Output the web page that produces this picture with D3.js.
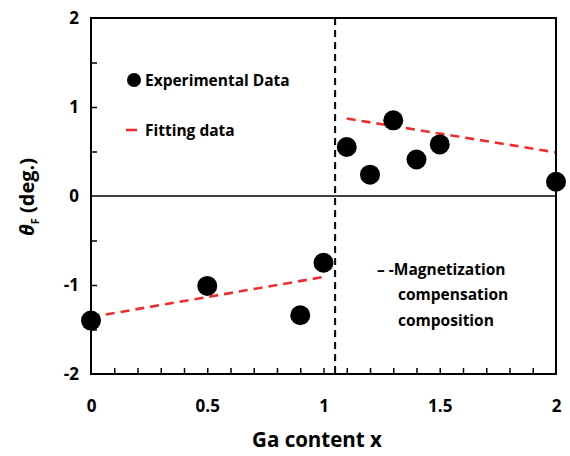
<!DOCTYPE html>
<html>
<head>
<meta charset="utf-8">
<script src="https://cdn.jsdelivr.net/npm/d3@7"></script>
<style>
  html, body { margin: 0; padding: 0; background: #fff; }
  svg { display: block; }
  text { font-family: "Open Sans", "Liberation Sans", sans-serif; fill: #000; }
</style>
</head>
<body>
<svg id="chart" width="570" height="456"></svg>
<script>
// Faraday rotation vs Ga content
const gaContent = [0, 0.5, 0.9, 1.0, 1.1, 1.2, 1.3, 1.4, 1.5, 2.0];
const thetaF    = [-1.40, -1.01, -1.34, -0.75, 0.55, 0.24, 0.85, 0.41, 0.58, 0.16];

// Linear fits on each side of the compensation point (end points)
const fitLowX  = [0, 1.0];
const fitLowY  = [-1.36, -0.91];
const fitHighX = [1.1, 2.0];
const fitHighY = [0.87, 0.49];

const compensationX = 1.05;

const xTicks = [0, 0.5, 1, 1.5, 2];
const xTickLabels = ["0", "0.5", "1", "1.5", "2"];
const yTicks = [-2, -1, 0, 1, 2];
const yTickLabels = ["-2", "-1", "0", "1", "2"];

const svg = d3.select("#chart");
const m = { left: 91, right: 556, top: 18, bottom: 374 };

const x = d3.scaleLinear().domain([0, 2]).range([m.left, m.right]);
const y = d3.scaleLinear().domain([-2, 2]).range([m.bottom, m.top]);

// Minor ticks (inside)
const xMinor = d3.range(1, 20).map(i => i / 10);
svg.append("g").attr("transform", `translate(0,${m.bottom})`)
  .call(d3.axisBottom(x).tickValues(xMinor).tickSizeInner(-6).tickSizeOuter(0).tickFormat(""))
  .call(g => g.select(".domain").remove())
  .call(g => g.selectAll("line").attr("stroke", "#000").attr("stroke-width", 1.5));

const yMinor = [-1.5, -1, -0.5, 0.5, 1, 1.5];
svg.append("g").attr("transform", `translate(${m.left},0)`)
  .call(d3.axisLeft(y).tickValues(yMinor).tickSizeInner(-6).tickSizeOuter(0).tickFormat(""))
  .call(g => g.select(".domain").remove())
  .call(g => g.selectAll("line").attr("stroke", "#000").attr("stroke-width", 1.5));

// Tick labels
const styleTickText = g => g.selectAll("text")
  .style("font-size", "17px").style("font-weight", "700")
  .style("font-family", "'Open Sans', sans-serif").attr("fill", "#000");

svg.append("g").attr("transform", `translate(0,${m.bottom})`)
  .call(d3.axisBottom(x).tickValues(xTicks).tickSize(0).tickPadding(26)
    .tickFormat((d, i) => xTickLabels[i]))
  .call(g => g.select(".domain").remove())
  .call(styleTickText);

svg.append("g").attr("transform", `translate(${m.left},0)`)
  .call(d3.axisLeft(y).tickValues(yTicks).tickSize(0).tickPadding(12)
    .tickFormat((d, i) => yTickLabels[i]))
  .call(g => g.select(".domain").remove())
  .call(styleTickText);

// Zero line
svg.append("line")
  .attr("x1", x(0)).attr("x2", x(2)).attr("y1", y(0)).attr("y2", y(0))
  .attr("stroke", "#000").attr("stroke-width", 1.5);

// Compensation composition line
svg.append("line")
  .attr("x1", x(compensationX)).attr("x2", x(compensationX))
  .attr("y1", y(2)).attr("y2", y(-2))
  .attr("stroke", "#000").attr("stroke-width", 2).attr("stroke-dasharray", "7,5");

// Fits
const fitLine = d3.line().x(d => x(d[0])).y(d => y(d[1]));
[[fitLowX, fitLowY], [fitHighX, fitHighY]].forEach(([fx, fy]) => {
  svg.append("path")
    .attr("d", fitLine(fx.map((v, i) => [v, fy[i]])))
    .attr("fill", "none").attr("stroke", "#ee2d2d")
    .attr("stroke-width", 2.6).attr("stroke-dasharray", "9,6");
});

// Frame
svg.append("rect")
  .attr("x", m.left).attr("y", m.top)
  .attr("width", m.right - m.left).attr("height", m.bottom - m.top)
  .attr("fill", "none").attr("stroke", "#000").attr("stroke-width", 2);

// Data points
svg.append("g").selectAll("circle")
  .data(gaContent.map((v, i) => [v, thetaF[i]]))
  .join("circle")
  .attr("cx", d => x(d[0])).attr("cy", d => y(d[1]))
  .attr("r", 10).attr("fill", "#000");

// Legend
const labelStyle = sel => sel.style("font-size", "15.5px").style("font-weight", "700");
svg.append("circle").attr("cx", 134).attr("cy", 80).attr("r", 7).attr("fill", "#000");
svg.append("text").attr("x", 145).attr("y", 86).call(labelStyle).text("Experimental Data");
svg.append("line").attr("x1", 126).attr("x2", 137).attr("y1", 130).attr("y2", 130)
  .attr("stroke", "#ee2d2d").attr("stroke-width", 2.6);
svg.append("text").attr("x", 145).attr("y", 136).call(labelStyle).text("Fitting data");

// Annotation for the dashed line
const ann = svg.append("text").call(labelStyle);
ann.append("tspan").attr("x", 377).attr("y", 275).text("– -Magnetization");
ann.append("tspan").attr("x", 398).attr("y", 300).text("compensation");
ann.append("tspan").attr("x", 398).attr("y", 326).text("composition");

// Axis titles
svg.append("text")
  .attr("x", 317).attr("y", 447)
  .attr("text-anchor", "middle")
  .style("font-size", "20.5px").style("font-weight", "700")
  .text("Ga content x");

const yt = svg.append("text")
  .attr("transform", `translate(34,197) rotate(-90)`)
  .attr("text-anchor", "middle")
  .style("font-size", "20px").style("font-weight", "700");
yt.append("tspan").style("font-style", "italic").text("θ");
yt.append("tspan").style("font-size", "11px").attr("dy", 5).text("F");
yt.append("tspan").attr("dy", -5).text(" (deg.)");
</script>
</body>
</html>
